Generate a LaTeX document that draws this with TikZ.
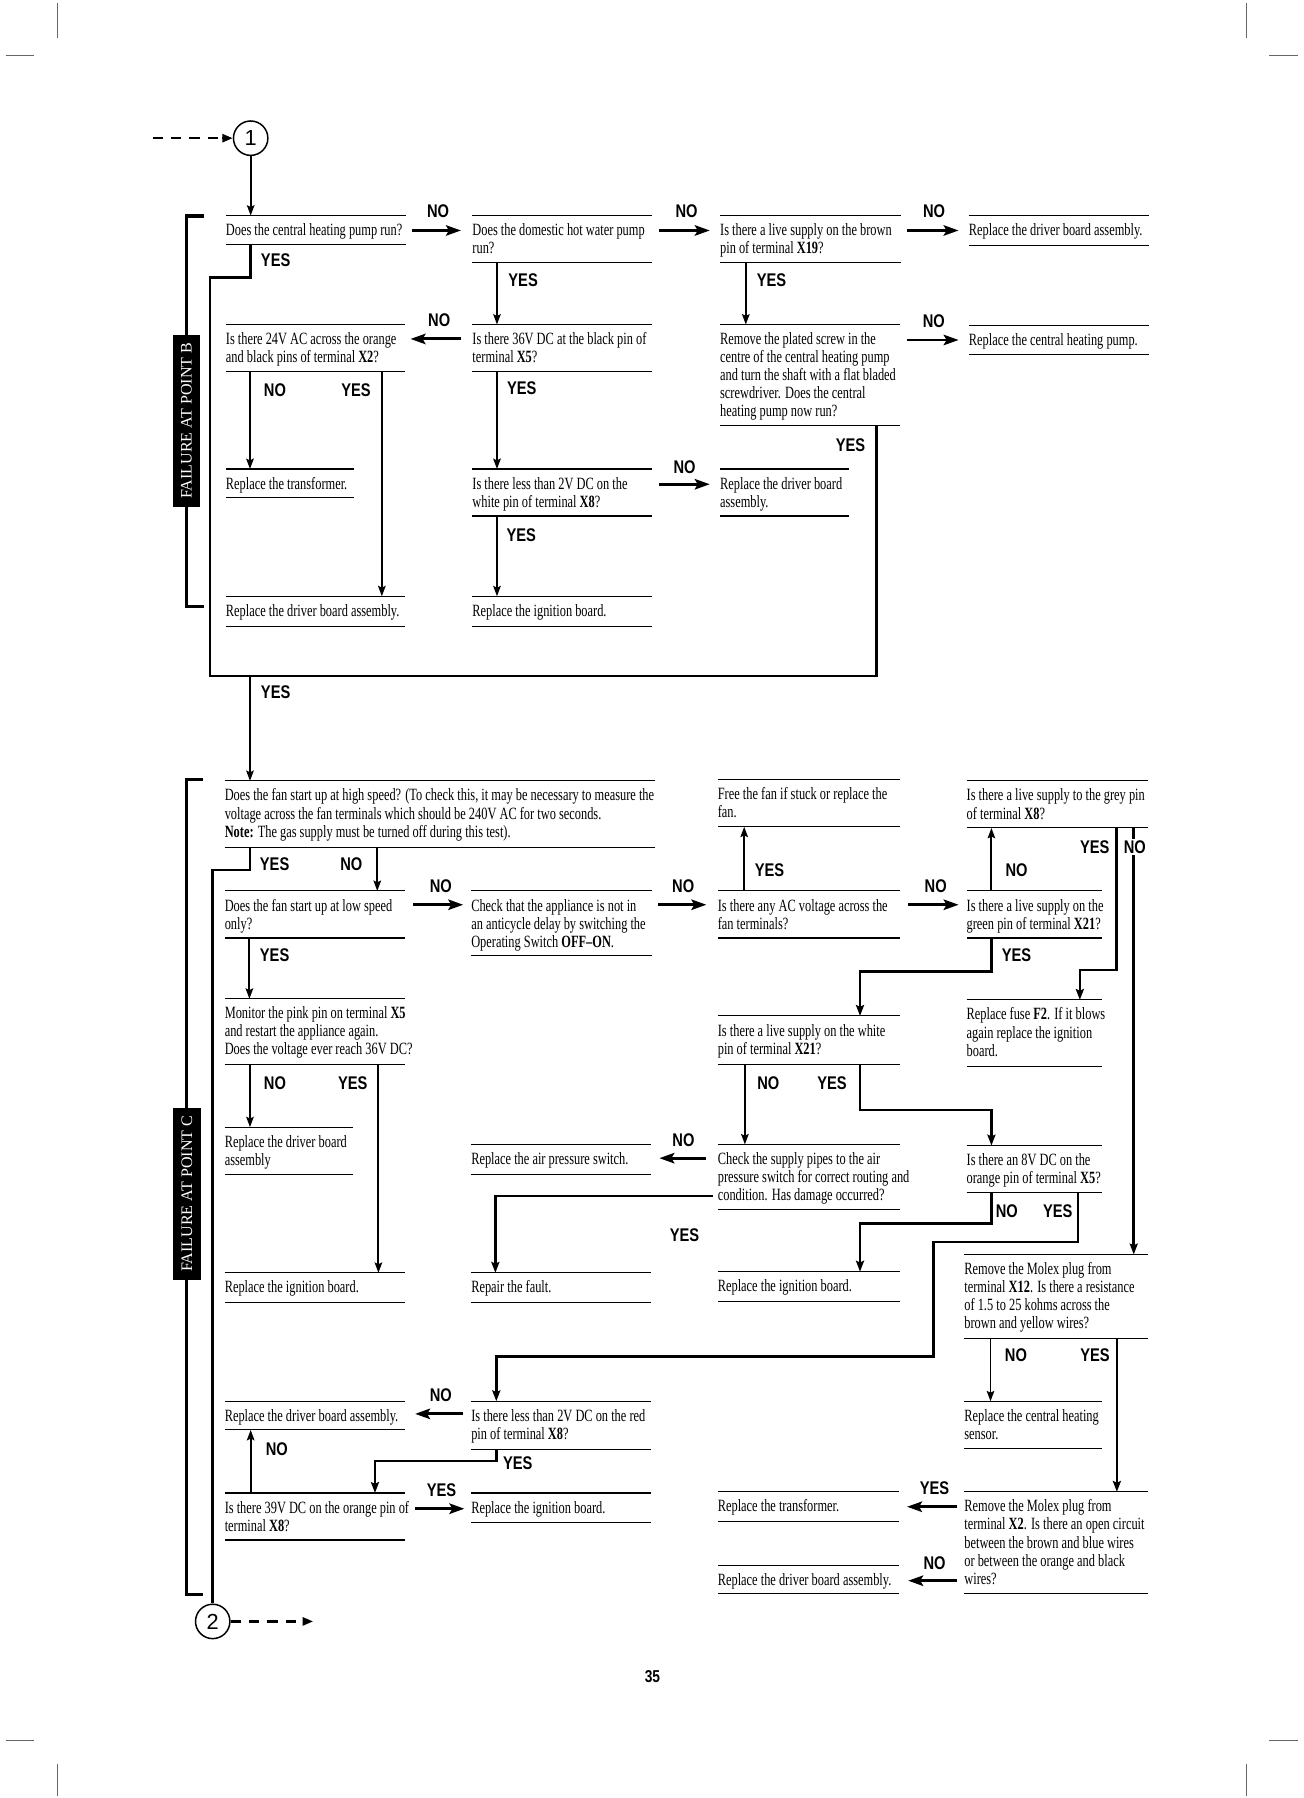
\documentclass[tikz,border=0pt]{standalone}
\usepackage{fontspec}
\setmainfont{Liberation Serif}[FakeStretch=0.72]
\newfontfamily\labfont{Liberation Sans}[FakeStretch=0.8]
\newfontfamily\circfont{Liberation Sans}
\newfontfamily\failfont{Liberation Serif}
\usetikzlibrary{arrows.meta,calc}
\newcommand\bxstrut{\rule{0pt}{17.5pt}}
\tikzset{
 bframe/.style={anchor=north west, inner sep=0pt, outer sep=0pt},
 btext/.style={anchor=north west, inner sep=0pt, outer sep=0pt, align=left, font=\fontsize{15}{15.75}\selectfont},
 brule/.style={line width=0.9pt},
 varr/.style={line width=1.7pt, -{Stealth[length=9pt,width=6.5pt,inset=1.5pt]}},
 harr/.style={line width=2.6pt, -{Stealth[length=13pt,width=9pt,inset=2.5pt]}},
 elbow/.style={line width=2.3pt},
 earr/.style={line width=2.3pt, -{Stealth[length=9.5pt,width=7pt,inset=1.5pt]}},
 brk/.style={line width=3pt},
 ynlab/.style={inner sep=0.5pt, font=\labfont\bfseries\fontsize{16}{16}\selectfont},
 ynlabw/.style={ynlab, fill=white, inner sep=1.5pt},
 fail/.style={fill=black, text=white, rotate=90, inner sep=0pt, minimum width=150pt, minimum height=24pt, font=\failfont\fontsize{14}{14}\selectfont},
 circ/.style={circle, draw, line width=1.3pt, minimum size=30pt, inner sep=0pt, font=\circfont\fontsize{19}{19}\selectfont},
 dsh/.style={line width=2pt, dash pattern=on 9pt off 7pt},
 dtip/.style={-{Triangle[length=9pt,width=7pt]}, solid},
 cropmark/.style={line width=0.8pt, black!60}
}
\newcommand\qbox[6]{%
  \node[bframe, minimum width=#4pt, minimum height=#5pt] (#1) at (#2,#3) {};
  \node[btext] (#1t) at (#1.north west) {\bxstrut#6};
  \draw[brule] (#1.north west) -- (#1.north east) (#1.south west) -- (#1.south east);
}
\begin{document}
\begin{tikzpicture}[x=1pt,y=-1pt]
\useasboundingbox (0,0) rectangle (1137,1568);
\fill[white] (0,0) rectangle (1137,1568);

% crop marks
\draw[cropmark] (50,3) -- (50,33) (5,48) -- (30,48);
\draw[cropmark] (1087,3) -- (1087,33) (1107,48) -- (1132,48);
\draw[cropmark] (5,1518) -- (30,1518) (50,1538) -- (50,1566);
\draw[cropmark] (1107,1518) -- (1132,1518) (1087,1538) -- (1087,1566);

% ---------------- section B ----------------
\qbox{B1}{197}{188}{157}{25}{Does the central heating pump run?}
\qbox{B2}{412}{188}{157}{41}{Does the domestic hot water pump\\run?}
\qbox{B3}{628}{188}{158}{41}{Is there a live supply on the brown\\pin of terminal \textbf{X19}?}
\qbox{B4}{845}{188}{157}{26}{Replace the driver board assembly.}
\qbox{B5}{197}{283}{156}{41}{Is there 24V AC across the orange\\and black pins of terminal \textbf{X2}?}
\qbox{B6}{412}{283}{157}{41}{Is there 36V DC at the black pin of\\terminal \textbf{X5}?}
\qbox{B7}{628}{283}{157}{88}{Remove the plated screw in the\\centre of the central heating pump\\and turn the shaft with a flat bladed\\screwdriver. Does the central\\heating pump now run?}
\qbox{B8}{845}{284}{157}{25}{Replace the central heating pump.}
\qbox{B9}{197}{409}{112}{25}{Replace the transformer.}
\qbox{B10}{412}{409}{157}{41}{Is there less than 2V DC on the\\white pin of terminal \textbf{X8}?}
\qbox{B11}{628}{409}{112}{41}{Replace the driver board\\assembly.}
\qbox{B12}{197}{520}{156}{26}{Replace the driver board assembly.}
\qbox{B13}{412}{520}{157}{26}{Replace the ignition board.}

% ---------------- section C ----------------
\qbox{B14}{196}{681}{375}{58}{Does the fan start up at high speed? (To check this, it may be necessary to measure the\\voltage across the fan terminals which should be 240V AC for two seconds.\\\textbf{Note:} The gas supply must be turned off during this test).}
\qbox{B19}{626}{680}{159}{41}{Free the fan if stuck or replace the\\fan.}
\qbox{B20}{843}{681}{158}{41}{Is there a live supply to the grey pin\\of terminal \textbf{X8}?}
\qbox{B15}{196}{777}{157}{41}{Does the fan start up at low speed\\only?}
\qbox{B16}{411}{777}{158}{56}{Check that the appliance is not in\\an anticycle delay by switching the\\Operating Switch \textbf{OFF--ON}.}
\qbox{B17}{626}{777}{159}{41}{Is there any AC voltage across the\\fan terminals?}
\qbox{B18}{843}{777}{118}{41}{Is there a live supply on the\\green pin of terminal \textbf{X21}?}
\qbox{B23}{196}{871}{157}{57}{Monitor the pink pin on terminal \textbf{X5}\\and restart the appliance again.\\Does the voltage ever reach 36V DC?}
\qbox{B22}{626}{886}{159}{42}{Is there a live supply on the white\\pin of terminal \textbf{X21}?}
\qbox{B21}{843}{872}{118}{58}{Replace fuse \textbf{F2}. If it blows\\again replace the ignition\\board.}
\qbox{B24}{196}{983}{112}{41}{Replace the driver board\\assembly}
\qbox{B28}{411}{998}{157}{26}{Replace the air pressure switch.}
\qbox{B26}{626}{998}{159}{57}{Check the supply pipes to the air\\pressure switch for correct routing and\\condition. Has damage occurred?}
\qbox{B27}{843}{999}{118}{41}{Is there an 8V DC on the\\orange pin of terminal \textbf{X5}?}
\qbox{B25}{196}{1110}{157}{26}{Replace the ignition board.}
\qbox{B29}{411}{1110}{157}{26}{Repair the fault.}
\qbox{B30}{626}{1109}{159}{26}{Replace the ignition board.}
\qbox{B32}{841}{1094}{160}{73}{Remove the Molex plug from\\terminal \textbf{X12}. Is there a resistance\\of 1.5 to 25 kohms across the\\brown and yellow wires?}
\qbox{B37}{196}{1222}{157}{25}{Replace the driver board assembly.}
\qbox{B31}{411}{1222}{157}{42}{Is there less than 2V DC on the red\\pin of terminal \textbf{X8}?}
\qbox{B33}{841}{1222}{120}{41}{Replace the central heating\\sensor.}
\qbox{B38}{196}{1302}{157}{41}{Is there 39V DC on the orange pin of\\terminal \textbf{X8}?}
\qbox{B39}{411}{1302}{157}{26}{Replace the ignition board.}
\qbox{B35}{626}{1301}{158}{26}{Replace the transformer.}
\qbox{B34}{841}{1301}{160}{89}{Remove the Molex plug from\\terminal \textbf{X2}. Is there an open circuit\\between the brown and blue wires\\or between the orange and black\\wires?}
\qbox{B36}{626}{1365}{158}{25}{Replace the driver board assembly.}

% circles and entry/exit
\node[circ] (c1) at (218.6,120.5) {1};
\node[circ] (c2) at (185.5,1414) {2};
\coordinate (d1) at (133,120.5);
\coordinate (d1e) at (194,120.5);
\coordinate (d2) at (273,1414);
\coordinate (d2s) at (264,1414);
\draw[dsh] (d1) -- (d1e);
\draw[dtip, line width=2pt] (d1e) -- (c1);
\draw[dsh] (c2) -- (d2s);
\draw[dtip, line width=2pt] (d2s) -- (d2);
\draw[varr] (c1) -- (c1 |- B1.north);

% helper coordinates
\coordinate (j1) at (183,242);
\coordinate (j2) at (183,589.5);
\coordinate (j3) at (764.4,589.5);
\coordinate (j4) at (218,589.5);
\coordinate (k1) at (185.5,758.6);
\coordinate (m1) at (941.7,846);
\coordinate (m2) at (750,847);
\coordinate (m3) at (864.6,968);
\coordinate (m5) at (750,1067);
\coordinate (m6) at (814,1083);
\coordinate (m7) at (814,1183);
\coordinate (m8) at (327,1274);
\coordinate (p1) at ([shift={(145.7,0)}]B20.south west);

% section B connectors
\draw[harr] ([shift={(5,13)}]B1.north east) -- ([shift={(-10,13)}]B2.north west);
\draw[harr] ([shift={(6,13)}]B2.north east) -- ([shift={(-9,13)}]B3.north west);
\draw[harr] ([shift={(5,13)}]B3.north east) -- ([shift={(-9,13)}]B4.north west);
\draw[elbow] ([shift={(21.6,0)}]B1.south west) |- (j1) -- (j2) -- (j3) -- (j3 |- B7.south);
\draw[varr] (j4) -- (j4 |- B14.north);
\draw[varr] ([shift={(21.4,0)}]B2.south west) -- ([shift={(21.4,0)}]B6.north west);
\draw[varr] ([shift={(22.4,0)}]B3.south west) -- ([shift={(22.4,0)}]B7.north west);
\draw[harr] ([shift={(-10,12.6)}]B6.north west) -- ([shift={(5,12.6)}]B5.north east);
\draw[harr] ([shift={(6,13.5)}]B7.north east) -- ([shift={(-9,12.5)}]B8.north west);
\draw[varr] ([shift={(21,0)}]B5.south west) -- ([shift={(21,0)}]B9.north west);
\draw[varr] ([shift={(136,0)}]B5.south west) -- ([shift={(136,0)}]B12.north west);
\draw[varr] ([shift={(21.4,0)}]B6.south west) -- ([shift={(21.4,0)}]B10.north west);
\draw[harr] ([shift={(6,13.3)}]B10.north east) -- ([shift={(-9,13.3)}]B11.north west);
\draw[varr] ([shift={(21.4,0)}]B10.south west) -- ([shift={(21.4,0)}]B13.north west);

% section C connectors
\draw[elbow] ([shift={(22,0)}]B14.south west) |- (k1) -- (c2);
\draw[varr] ([shift={(133,0)}]B14.south west) -- ([shift={(133,0)}]B15.north west);
\draw[harr] ([shift={(7.5,12)}]B15.north east) -- ([shift={(-7,12)}]B16.north west);
\draw[harr] ([shift={(5,12)}]B16.north east) -- ([shift={(-10,12)}]B17.north west);
\draw[harr] ([shift={(7,12)}]B17.north east) -- ([shift={(-7,12)}]B18.north west);
\draw[varr] ([shift={(23,0)}]B17.north west) -- ([shift={(23,0)}]B19.south west);
\draw[varr] ([shift={(21.6,0)}]B18.north west) -- ([shift={(21.6,0)}]B20.south west);
\draw[earr] ([shift={(130.6,0)}]B20.south west) |- (m1) -- (m1 |- B21.north);
\draw[earr] (p1) -- (p1 |- B32.north);
\draw[earr] ([shift={(21.6,0)}]B18.south west) |- (m2) -- (m2 |- B22.north);
\draw[varr] ([shift={(21.5,0)}]B15.south west) -- ([shift={(21.5,0)}]B23.north west);
\draw[varr] ([shift={(22,0)}]B23.south west) -- ([shift={(22,0)}]B24.north west);
\draw[varr] ([shift={(134,0)}]B23.south west) -- ([shift={(134,0)}]B25.north west);
\draw[varr] ([shift={(23.6,0)}]B22.south west) -- ([shift={(23.6,0)}]B26.north west);
\draw[earr] ([shift={(124,0)}]B22.south west) |- (m3) -- (m3 |- B27.north);
\draw[harr] ([shift={(-10,12)}]B26.north west) -- ([shift={(7,12)}]B28.north east);
\draw[earr] ([shift={(-4,45)}]B26.north west) -| ([shift={(21,0)}]B29.north west);
\draw[earr] ([shift={(21.6,0)}]B27.south west) |- (m5) -- (m5 |- B30.north);
\draw[earr] ([shift={(97,0)}]B27.south west) |- (m6) -- (m7) -| ([shift={(21.8,0)}]B31.north west);
\draw[varr] ([shift={(22.8,0)}]B32.south west) -- ([shift={(22.8,0)}]B33.north west);
\draw[earr] ([shift={(133,0)}]B32.south west) -- ([shift={(133,0)}]B34.north west);
\draw[harr] ([shift={(-6,13)}]B34.north west) -- ([shift={(7,13)}]B35.north east);
\draw[harr] ([shift={(-6,77.5)}]B34.north west) -- ([shift={(8,13.5)}]B36.north east);
\draw[harr] ([shift={(-7,11)}]B31.north west) -- ([shift={(9,11)}]B37.north east);
\draw[earr] ([shift={(21.8,0)}]B31.south west) |- (m8) -- (m8 |- B38.north);
\draw[harr] ([shift={(9,13.7)}]B38.north east) -- ([shift={(-6,13.7)}]B39.north west);
\draw[varr] ([shift={(22.6,0)}]B38.north west) -- ([shift={(22.6,0)}]B37.south west);

% brackets and side labels
\draw[brk] (178,188.3) -- (162.5,188.3) -- (162.5,529) -- (177.5,529);
\draw[brk] (177,680) -- (162.5,680) -- (162.5,1390.7) -- (177,1390.7);
\node[fail] (fB) at (162.5,367) {FAILURE AT POINT B};
\node[fail] (fC) at (163,1041) {FAILURE AT POINT C};

% YES / NO labels, section B
\node[ynlab] (l1) at (382,184.6) {NO};
\node[ynlab] (l2) at (598.7,184.6) {NO};
\node[ynlab] (l3) at (814.6,184.6) {NO};
\node[ynlab] (l4) at (240.4,226.7) {YES};
\node[ynlab] (l5) at (456.2,244.7) {YES};
\node[ynlab] (l6) at (672.8,244.7) {YES};
\node[ynlab] (l7) at (383,279.6) {NO};
\node[ynlab] (l8) at (814.4,280.5) {NO};
\node[ynlab] (l9) at (239.8,340) {NO};
\node[ynlab] (l10) at (310.4,340) {YES};
\node[ynlab] (l11) at (455,338.6) {YES};
\node[ynlab] (l12) at (741.7,388) {YES};
\node[ynlab] (l13) at (597,407) {NO};
\node[ynlab] (l14) at (454.6,466.5) {YES};
\node[ynlab] (l15) at (240.4,604) {YES};

% YES / NO labels, section C
\node[ynlab] (l16) at (239.5,754) {YES};
\node[ynlab] (l17) at (306.4,754) {NO};
\node[ynlab] (l18) at (384.5,773) {NO};
\node[ynlab] (l19) at (595.8,773) {NO};
\node[ynlab] (l20) at (816,773) {NO};
\node[ynlab] (l21) at (671,758.6) {YES};
\node[ynlab] (l22) at (886.5,758.6) {NO};
\node[ynlab] (l23) at (954.7,738.5) {YES};
\node[ynlabw] (l24) at (989.6,738.5) {NO};
\node[ynlab] (l25) at (239.5,832.7) {YES};
\node[ynlab] (l26) at (886.5,832.7) {YES};
\node[ynlab] (l27) at (239.8,944.5) {NO};
\node[ynlab] (l28) at (307.7,944.5) {YES};
\node[ynlab] (l29) at (670,944.5) {NO};
\node[ynlab] (l30) at (725.6,944.5) {YES};
\node[ynlab] (l31) at (596,994.5) {NO};
\node[ynlab] (l32) at (597,1076.8) {YES};
\node[ynlab] (l33) at (878,1056.5) {NO};
\node[ynlab] (l34) at (922.5,1056.5) {YES};
\node[ynlab] (l35) at (886,1182) {NO};
\node[ynlab] (l36) at (955,1182) {YES};
\node[ynlab] (l37) at (384.5,1217) {NO};
\node[ynlab] (l38) at (451.6,1275.7) {YES};
\node[ynlab] (l39) at (385,1299.8) {YES};
\node[ynlab] (l40) at (241.4,1263.4) {NO};
\node[ynlab] (l41) at (815,1297.6) {YES};
\node[ynlab] (l42) at (815,1363) {NO};

% page number
\node[font=\labfont\bfseries\fontsize{15}{15}\selectfont, inner sep=0pt] (pg) at (569,1462) {35};
\end{tikzpicture}
\end{document}
